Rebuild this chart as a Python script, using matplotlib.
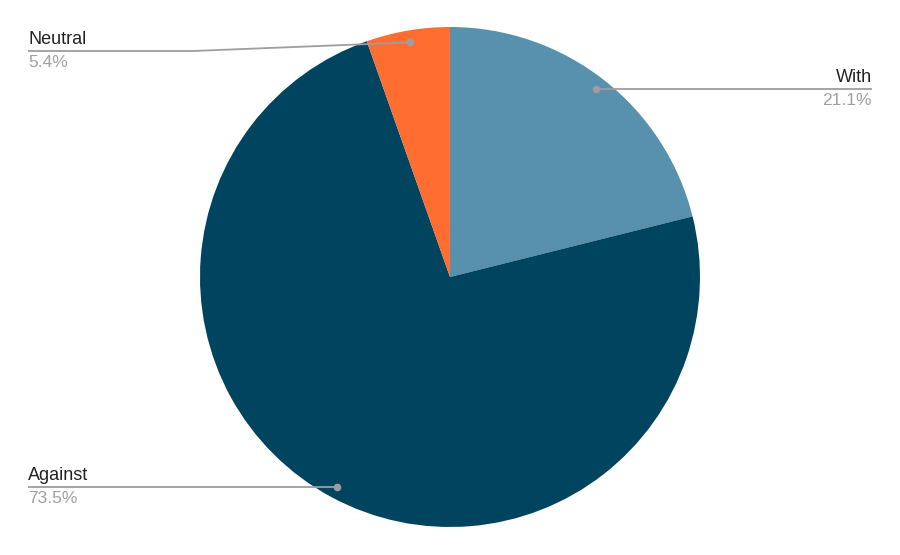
import matplotlib
matplotlib.use("Agg")
import matplotlib.pyplot as plt
import numpy as np

categories = ["With", "Against", "Neutral"]
values = [21.1, 73.5, 5.4]
colors = ["#5891ad", "#01445f", "#ff6d31"]

H = 555
fig = plt.figure(figsize=(9, 5.55), dpi=100)
ax = fig.add_axes([0, 0, 1, 1])

cx, cy, R = 450, H - 277, 250
wedges, _ = ax.pie(values, colors=colors, startangle=90, counterclock=False,
                   center=(cx, cy), radius=R, frame=True,
                   wedgeprops=dict(linewidth=0))
ax.set_xlim(0, 900)
ax.set_ylim(0, H)
ax.axis("off")

font = ["Liberation Sans", "DejaVu Sans"]
line_col = "#9e9e9e"
tot = sum(values)

layout = {
    "With": dict(tx=872, ha="right", ly=90, elbow=None),
    "Against": dict(tx=28, ha="left", ly=486, elbow=None),
    "Neutral": dict(tx=28, ha="left", ly=51, elbow=193),
}

for w, cat, v in zip(wedges, categories, values):
    ang = np.deg2rad((w.theta1 + w.theta2) / 2)
    px = cx + 0.952 * R * np.cos(ang)
    py = cy + 0.952 * R * np.sin(ang)
    L = layout[cat]
    ly = H - L["ly"]
    if L["elbow"] is None:
        xs = [px, L["tx"]]
        ys = [py, py]
        ly = py
    else:
        xs = [px, L["elbow"], L["tx"]]
        ys = [py, ly, ly]
    ax.plot(xs, ys, color=line_col, lw=1.3, solid_capstyle="butt", zorder=3)
    ax.plot([px], [py], "o", color=line_col, ms=4.5, zorder=4)
    ax.text(L["tx"], ly + 3, cat, ha=L["ha"], va="bottom", fontsize=13,
            color="#222222", family=font)
    ax.text(L["tx"], ly - 4, f"{v / tot * 100:.1f}%", ha=L["ha"], va="top",
            fontsize=12.5, color="#a0a0a0", family=font)

fig.savefig("out.png", dpi=100)
